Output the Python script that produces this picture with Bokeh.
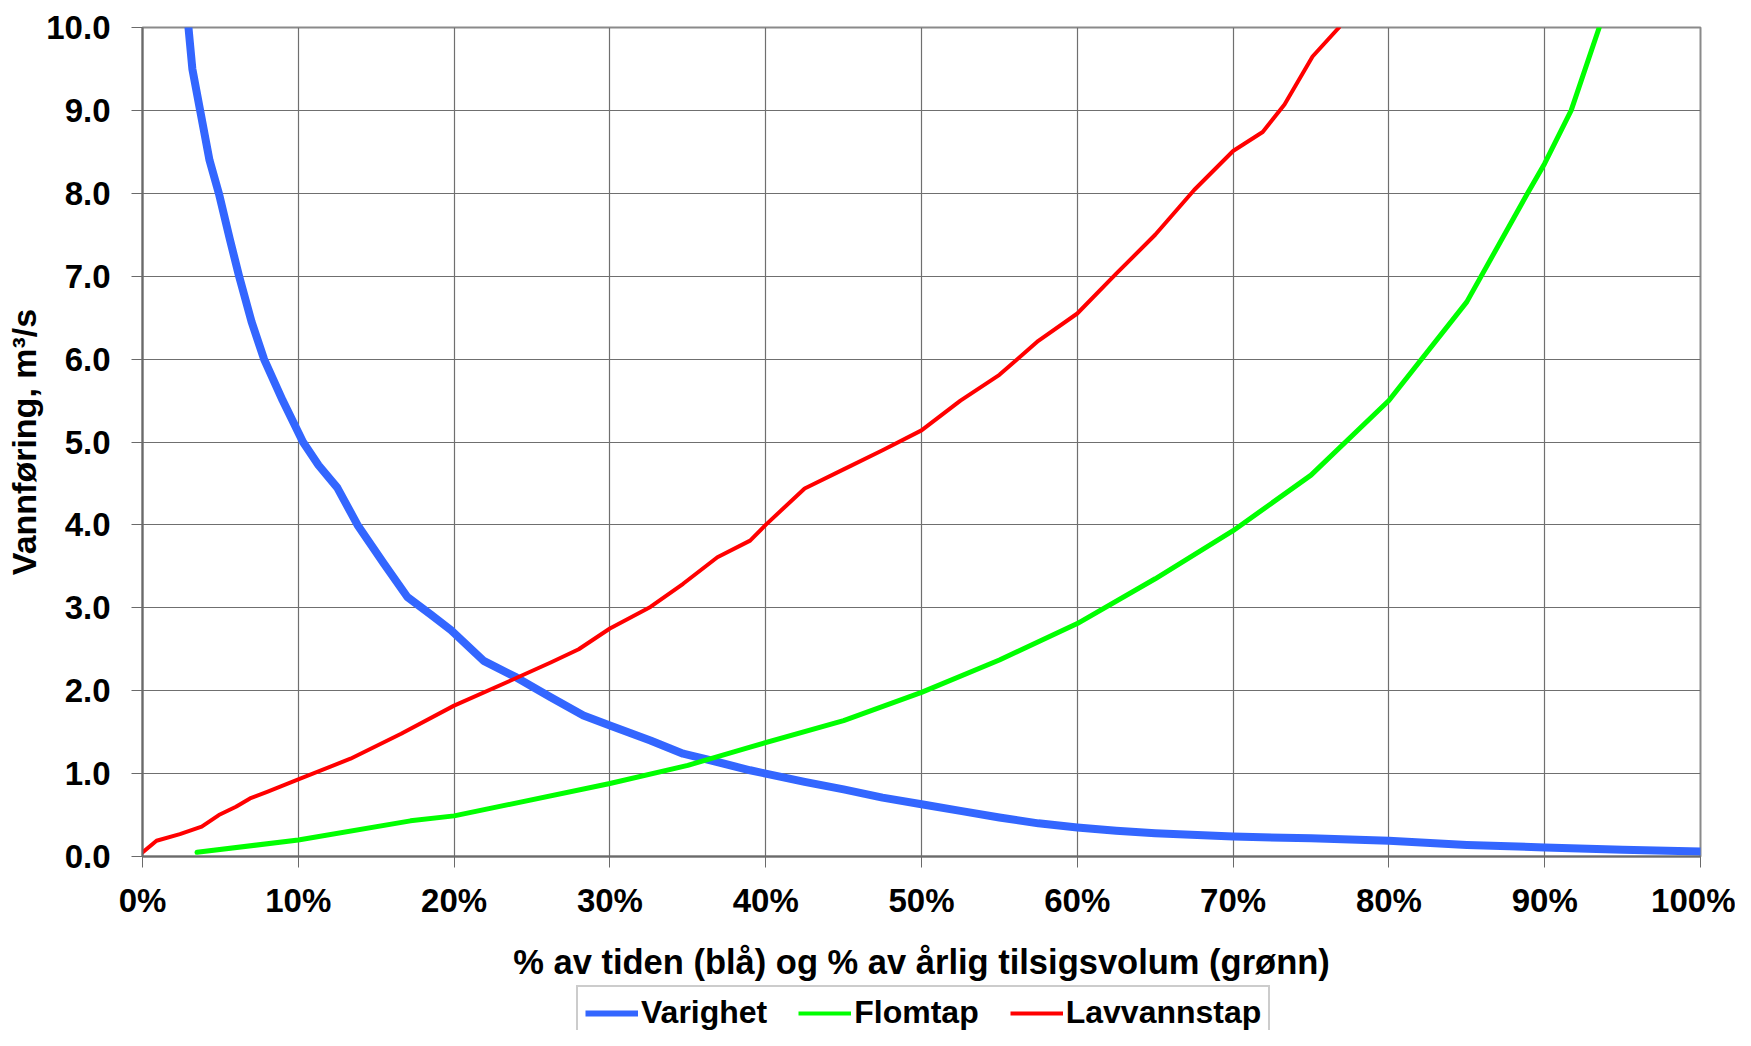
from bokeh.plotting import figure
from bokeh.layouts import column
from bokeh.models import (FixedTicker, NumeralTickFormatter, PrintfTickFormatter,
                          Range1d, Legend, LegendItem)
from bokeh.embed import file_html
from bokeh.resources import INLINE

# ---- data ----
varighet_x = [2.95, 3.2, 3.7, 4.3, 4.9, 5.6, 6.2, 7.0, 7.8, 9.0, 10.3, 11.3, 12.5,
              13.8, 15.5, 17.0, 18.5, 19.8, 21.9, 24.0, 26.2, 28.3, 30.0, 32.6,
              34.7, 36.9, 39.0, 40.0, 42.5, 45.0, 47.5, 50.0, 52.5, 55.0, 57.5,
              60.0, 62.5, 65.0, 70.0, 75.0, 80.0, 85.0, 90.0, 95.0, 100.0]
varighet_y = [10.0, 9.5, 9.0, 8.4, 8.0, 7.45, 7.0, 6.45, 6.0, 5.5, 5.0, 4.72, 4.45,
              4.0, 3.53, 3.13, 2.92, 2.73, 2.36, 2.16, 1.92, 1.70, 1.58, 1.40,
              1.24, 1.14, 1.04, 1.0, 0.9, 0.81, 0.71, 0.63, 0.55, 0.47, 0.40,
              0.35, 0.31, 0.28, 0.24, 0.22, 0.19, 0.14, 0.11, 0.08, 0.06]

flomtap_x = [3.5, 10.0, 17.2, 20.0, 30.0, 35.0, 39.0, 45.0, 50.0, 55.0, 60.0,
             65.0, 70.0, 75.0, 80.0, 85.0, 88.9, 90.0, 91.7, 93.5]
flomtap_y = [0.05, 0.2, 0.43, 0.49, 0.88, 1.1, 1.32, 1.64, 1.98, 2.37, 2.81,
             3.35, 3.93, 4.6, 5.5, 6.69, 8.0, 8.36, 9.0, 10.0]

lavvann_x = [0.0, 0.9, 2.4, 3.8, 4.9, 6.0, 6.9, 8.0, 10.0, 13.35, 16.6, 20.0,
             23.6, 26.2, 28.0, 30.0, 32.6, 34.7, 36.9, 39.0, 40.0, 42.5, 45.0,
             47.5, 50.0, 52.5, 55.0, 57.5, 60.0, 62.5, 65.0, 67.5, 70.0, 71.9,
             73.3, 75.1, 76.8]
lavvann_y = [0.05, 0.19, 0.27, 0.36, 0.5, 0.6, 0.70, 0.78, 0.93, 1.18, 1.48, 1.82,
             2.12, 2.34, 2.5, 2.75, 3.01, 3.29, 3.61, 3.81, 4.0, 4.44, 4.67,
             4.9, 5.14, 5.5, 5.81, 6.22, 6.55, 7.03, 7.5, 8.04, 8.51, 8.74,
             9.07, 9.65, 10.0]

y_ticks = [0, 1, 2, 3, 4, 5, 6, 7, 8, 9, 10]
x_ticks = [0, 10, 20, 30, 40, 50, 60, 70, 80, 90, 100]
series_names = ["Varighet", "Flomtap", "Lavvannstap"]
series_colors = ["#3366ff", "#00ff00", "#ff0000"]
series_x = [varighet_x, flomtap_x, lavvann_x]
series_y = [varighet_y, flomtap_y, lavvann_y]

FONT = "Liberation Sans"
W = 1735
H_MAIN = 984
H_LEG = 46

p = figure(width=W, height=H_MAIN, output_backend="svg", toolbar_location=None,
           x_range=Range1d(0, 100), y_range=Range1d(0, 10),
           min_border_left=142, min_border_top=27, min_border_right=35,
           min_border_bottom=128, background_fill_color="white",
           border_fill_color="white")

p.outline_line_color = "#8a8a8a"
p.outline_line_width = 2

for ax in (p.xaxis[0], p.yaxis[0]):
    ax.major_label_text_font = FONT
    ax.major_label_text_font_style = "bold"
    ax.major_label_text_font_size = "33px"
    ax.major_label_text_color = "black"
    ax.axis_label_text_font = FONT
    ax.axis_label_text_font_style = "bold"
    ax.axis_label_text_color = "black"
    ax.major_tick_out = 11
    ax.major_tick_in = 0
    ax.minor_tick_out = 0
    ax.minor_tick_in = 0
    ax.axis_line_color = "#6a6a6a"
    ax.axis_line_width = 2
    ax.major_tick_line_color = "#6a6a6a"
    ax.major_tick_line_width = 1

p.yaxis[0].ticker = FixedTicker(ticks=y_ticks)
p.yaxis[0].formatter = NumeralTickFormatter(format="0.0")
p.yaxis[0].major_label_standoff = 21
p.yaxis[0].axis_label = "Vannføring, m³/s"
p.yaxis[0].axis_label_text_font_size = "34px"
p.yaxis[0].axis_label_standoff = 0

p.xaxis[0].ticker = FixedTicker(ticks=x_ticks)
p.xaxis[0].formatter = PrintfTickFormatter(format="%d%%")
p.xaxis[0].major_label_standoff = 14
p.xaxis[0].axis_label = "% av tiden (blå) og % av årlig tilsigsvolum (grønn)"
p.xaxis[0].axis_label_text_font_size = "34.5px"
p.xaxis[0].axis_label_standoff = 21

p.xgrid[0].ticker = FixedTicker(ticks=x_ticks)
p.ygrid[0].ticker = FixedTicker(ticks=y_ticks)
for g in (p.xgrid[0], p.ygrid[0]):
    g.grid_line_color = "#6f6f6f"
    g.grid_line_width = 1.2

plot_widths = [8, 5, 4]
for xs, ys, c, w in zip(series_x, series_y, series_colors, plot_widths):
    p.line(xs, ys, line_color=c, line_width=w, line_join="round", line_cap="round")

# ---- legend strip below the chart (its frame is aligned with the chart's) ----
q = figure(width=W, height=H_LEG, output_backend="svg", toolbar_location=None,
           x_range=Range1d(0, 100), y_range=Range1d(100, 101),
           x_axis_type=None, y_axis_type=None,
           min_border=0, min_border_left=0, min_border_right=0,
           min_border_top=0, min_border_bottom=0,
           background_fill_color="white", border_fill_color="white")
q.outline_line_color = None
legend_widths = [6, 4, 4]
leg_renderers = [q.line(xs, ys, line_color=c, line_width=w)
                 for xs, ys, c, w in zip(series_x, series_y, series_colors, legend_widths)]

legend = Legend(items=[LegendItem(label=n, renderers=[r])
                       for n, r in zip(series_names, leg_renderers)],
                orientation="horizontal", location=(434, -10),
                label_text_font=FONT, label_text_font_style="bold",
                label_text_font_size="32px", label_text_color="black",
                glyph_width=53, glyph_height=20, label_standoff=3, spacing=31,
                padding=7, margin=0, border_line_color="#9a9a9a",
                border_line_width=2, background_fill_color="white",
                background_fill_alpha=1.0)
q.add_layout(legend, "center")

layout = column(p, q, spacing=0)
open("out.html", "w").write(file_html(layout, INLINE))
